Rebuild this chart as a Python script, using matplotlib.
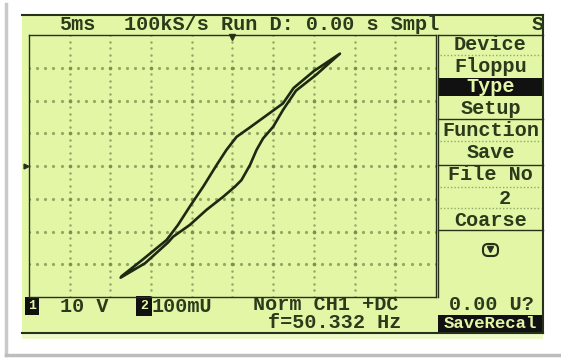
import numpy as np
import matplotlib
matplotlib.use("Agg")
import matplotlib.pyplot as plt
from matplotlib.patches import Rectangle, FancyBboxPatch

# hysteresis loop, in grid divisions (x: -5..5, y: -4..4)
up_x = [-2.73, -2.2, -1.62, -1.34, -1.05, -0.72, -0.39, -0.15, 0.10, 0.43, 0.84, 1.24, 1.50, 2.0, 2.64]
up_y = [-3.37, -2.85, -2.26, -1.80, -1.24, -0.63, 0.03, 0.49, 0.89, 1.18, 1.55, 1.91, 2.38, 2.90, 3.43]
down_x = [2.66, 2.05, 1.56, 1.24, 1.00, 0.75, 0.59, 0.43, 0.22, 0.06, -0.23, -0.64, -1.05, -1.46, -1.58, -2.15, -2.75]
down_y = [3.39, 2.78, 2.30, 1.71, 1.20, 0.84, 0.49, 0.03, -0.43, -0.63, -0.94, -1.34, -1.80, -2.16, -2.33, -2.97, -3.41]

status_left = "5ms"
status_main = "100kS/s Run D: 0.00 s Smpl"
status_right = "S"
menu_items = ["Device", "Floppu", "Type", "Setup", "Function", "Save", "File No", "2", "Coarse"]
menu_y = [45, 67, 87, 109, 130, 153, 174, 199, 220]
highlight = "Type"

GREEN = "#e3f6a6"
DARK = "#26311a"
TXT = "#2c3a1c"
GRID = "#93a866"

plt.rcParams['font.family'] = ['Liberation Mono', 'DejaVu Sans Mono']
plt.rcParams['font.weight'] = 'bold'

fig = plt.figure(figsize=(5.61, 3.58), dpi=100)
fig.patch.set_facecolor("white")

# background in pixel coords
bg = fig.add_axes([0, 0, 1, 1])
bg.set_xlim(0, 561)
bg.set_ylim(358, 0)
bg.axis("off")

# frame shadow
bg.plot([6, 6], [4, 355], color="#c9c9c9", lw=2.5)
bg.plot([6, 561], [355, 355], color="#bdbdbd", lw=2.5)

# screen
bg.add_patch(Rectangle((22, 15), 521, 318, facecolor=GREEN, edgecolor="none"))
bg.add_patch(Rectangle((22, 333), 521, 6, facecolor="#eef9c8", edgecolor="none"))
bg.plot([22, 543], [15, 15], color=DARK, lw=1.5)
bg.plot([543, 543], [15, 333], color=DARK, lw=1.5)
bg.plot([22, 543], [333, 333], color=DARK, lw=1.5)

fs = 14.5
bg.text(77, 25, status_left, ha="center", va="center", fontsize=fs, color=TXT)
bg.text(124, 25, status_main, ha="left", va="center", fontsize=fs, color=TXT)
bg.text(538, 25, status_right, ha="center", va="center", fontsize=fs, color=TXT)

# menu column
bg.plot([438, 438], [35, 297], color=DARK, lw=1.0)
bg.plot([438, 543], [35, 35], color=DARK, lw=1.0)
for yy in [119, 165, 230]:
    bg.plot([438, 543], [yy, yy], color=DARK, lw=1.0)
for yy in [55, 141, 187, 208]:
    bg.plot([440, 541], [yy, yy], color=GRID, lw=1.0, ls=(0, (1, 1.5)))
bg.add_patch(Rectangle((438, 78), 105, 18, facecolor="#111111", edgecolor="none"))
for name, yy in zip(menu_items, menu_y):
    col = GREEN if name == highlight else TXT
    xx = 505 if name == "2" else 490.5
    bg.text(xx, yy, name, ha="center", va="center", fontsize=fs, color=col)
bg.add_patch(FancyBboxPatch((483, 244), 15, 12, boxstyle="round,pad=0,rounding_size=5",
                            facecolor="none", edgecolor=DARK, lw=1.5))
bg.plot([490.5], [249], marker="v", ms=5, color=DARK)

# bottom status lines
bg.text(32, 306, "1", ha="center", va="center", fontsize=9.5, color=GREEN,
        bbox=dict(boxstyle="square,pad=0.25", fc="#111111", ec="none"))
bg.text(60, 306, "10 V", ha="left", va="center", fontsize=fs, color=TXT)
bg.text(144, 306, "2", ha="center", va="center", fontsize=9.5, color=GREEN,
        bbox=dict(boxstyle="square,pad=0.3", fc="#111111", ec="none"))
bg.text(152, 306, "100mU", ha="left", va="center", fontsize=fs, color=TXT)
bg.text(253, 304, "Norm CH1 +DC", ha="left", va="center", fontsize=fs, color=TXT)
bg.text(449, 304, "0.00 U?", ha="left", va="center", fontsize=fs, color=TXT)
bg.text(268, 323, "f=50.332 Hz", ha="left", va="center", fontsize=fs, color=TXT)
bg.add_patch(Rectangle((438, 315), 105, 17, facecolor="#111111", edgecolor="none"))
bg.text(490, 323.5, "SaveRecal", ha="center", va="center", fontsize=12.5, color=GREEN)

# scope plot area
ax = fig.add_axes([29 / 561, (358 - 297) / 358, 407 / 561, 262 / 358])
ax.set_facecolor("none")
ax.set_xlim(-5, 5)
ax.set_ylim(-4, 4)
ax.set_xticks([])
ax.set_yticks([])
for sp in ax.spines.values():
    sp.set_color(DARK)
    sp.set_linewidth(1.0)

dots_y = np.arange(-4, 4.001, 0.2)
dots_x = np.arange(-5, 5.001, 0.2)
for i in range(-4, 5):
    ax.plot(np.full_like(dots_y, i), dots_y, ls="none", marker="o", ms=1.8, color=GRID, mec="none")
for j in range(-3, 4):
    ax.plot(dots_x, np.full_like(dots_x, j), ls="none", marker="o", ms=2.3, color=GRID, mec="none")
ix, iy = np.meshgrid(np.arange(-4, 5), np.arange(-3, 4))
ax.plot(ix.ravel(), iy.ravel(), ls="none", marker="o", ms=2.6, color="#7b9150", mec="none")
ax.plot([0], [3.93], marker="v", ms=4, color=DARK, clip_on=False)
ax.plot([-5.08], [0], marker=">", ms=3.5, color=DARK, clip_on=False)

xs = up_x + down_x[1:]
ys = up_y + down_y[1:]
ax.plot(xs, ys, color="#1d2912", lw=1.9, solid_joinstyle="round", solid_capstyle="round")

fig.savefig("out.png", dpi=100, facecolor="white")
